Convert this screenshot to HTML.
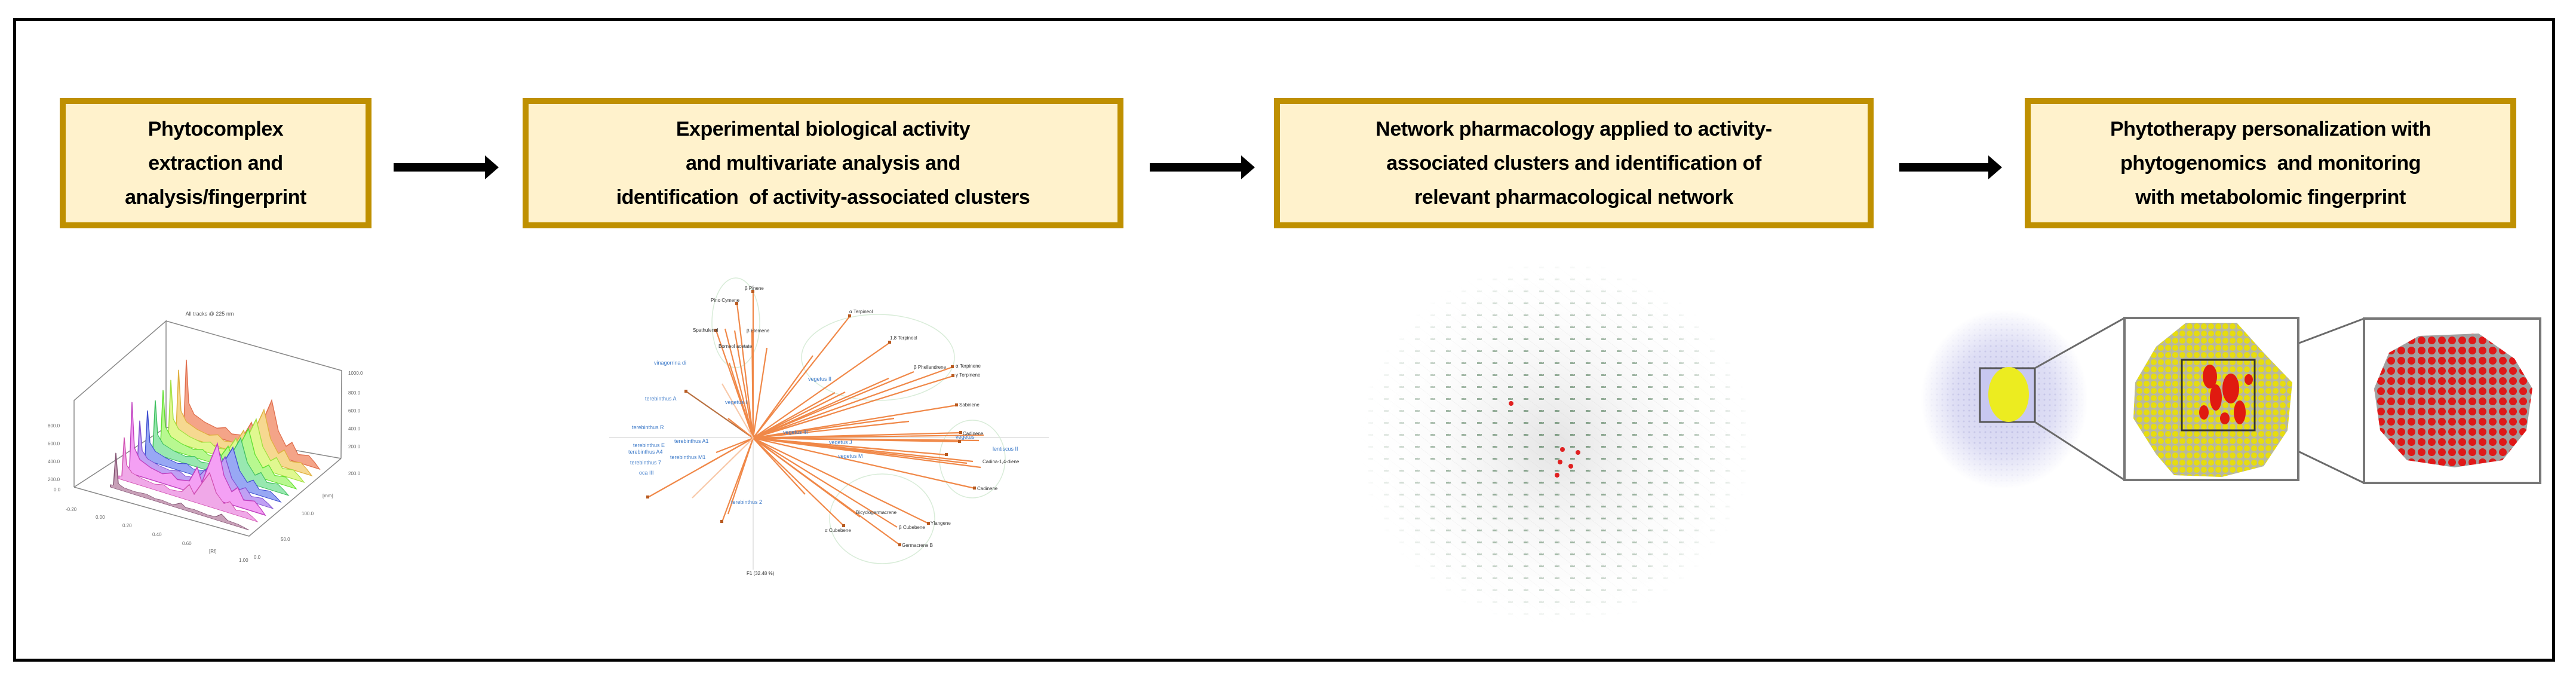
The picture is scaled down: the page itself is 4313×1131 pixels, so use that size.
<!DOCTYPE html>
<html><head><meta charset="utf-8"><style>
html,body{margin:0;padding:0;background:#fff;}
body{width:4313px;height:1131px;position:relative;overflow:hidden;font-family:"Liberation Sans",sans-serif;}
.frame{position:absolute;left:22px;top:30px;width:4256px;height:1077px;border:5px solid #000;box-sizing:border-box;}
.box{position:absolute;top:164px;height:218px;background:#fff2cc;border:10px solid #bf9000;box-sizing:border-box;display:flex;flex-direction:column;justify-content:center;align-items:center;text-align:center;font-weight:bold;font-size:34px;line-height:57px;color:#000;letter-spacing:-0.5px;}
svg{position:absolute;left:0;top:0;}
</style></head><body>
<div class="frame"></div>
<div class="box" style="left:100px;width:522px;">Phytocomplex<br>extraction and<br>analysis/fingerprint</div>
<div class="box" style="left:875px;width:1006px;">Experimental biological activity<br>and multivariate analysis and<br>identification&nbsp; of activity-associated clusters</div>
<div class="box" style="left:2133px;width:1004px;">Network pharmacology applied to activity-<br>associated clusters and identification of<br>relevant pharmacological network</div>
<div class="box" style="left:3390px;width:823px;">Phytotherapy personalization with<br>phytogenomics&nbsp; and monitoring<br>with metabolomic fingerprint</div>

<svg width="4313" height="1131" viewBox="0 0 4313 1131">
<defs>
<pattern id="yel" width="12" height="12" patternUnits="userSpaceOnUse"><rect width="12" height="12" fill="#b8b8a0"/><circle cx="6" cy="6" r="5" fill="#e6dc10"/></pattern>
<pattern id="red" width="17" height="17" patternUnits="userSpaceOnUse"><rect width="17" height="17" fill="#a0a0a0"/><circle cx="8.5" cy="8.5" r="6.5" fill="#e01818"/></pattern>
<pattern id="pur" width="9" height="9" patternUnits="userSpaceOnUse"><rect width="9" height="9" fill="#c4c4ec"/><circle cx="3" cy="3" r="1.5" fill="#a0a0d8"/></pattern>
<pattern id="net" width="26" height="20" patternUnits="userSpaceOnUse"><rect x="3" y="6" width="8" height="3" fill="#7a9a80"/><line x1="0" y1="0" x2="26" y2="20" stroke="#ddd" stroke-width="0.5"/></pattern>
<radialGradient id="fade"><stop offset="0" stop-color="#fff" stop-opacity="1"/><stop offset="0.6" stop-color="#fff" stop-opacity="0.7"/><stop offset="1" stop-color="#fff" stop-opacity="0"/></radialGradient>
<mask id="netmask"><ellipse cx="2605" cy="740" rx="330" ry="305" fill="url(#fade)"/></mask>
<mask id="purmask"><ellipse cx="3356" cy="668" rx="140" ry="150" fill="url(#fade)"/></mask>
<radialGradient id="ng"><stop offset="0" stop-color="#e4e4e4"/><stop offset="1" stop-color="#fafafa" stop-opacity="0"/></radialGradient>
</defs>

<g fill="#000">
<polygon points="659,273 812,273 812,260 835,280 812,300 812,287 659,287"/>
<polygon points="1925,273 2078,273 2078,260 2101,280 2078,300 2078,287 1925,287"/>
<polygon points="3180,273 3329,273 3329,260 3352,280 3329,300 3329,287 3180,287"/>
</g>

<g stroke="#888" stroke-width="1.5" fill="none">
<polyline points="124,815 124,670 278,537 278,715"/>
<polyline points="278,537 572,620 571,767"/>
<polyline points="124,815 417,897 571,767"/>
<line x1="278" y1="715" x2="571" y2="767"/>
<line x1="124" y1="815" x2="278" y2="715"/>
</g>
<text x="351" y="528" font-size="9" fill="#555" text-anchor="middle">All tracks @ 225 nm</text>
<g font-size="8" fill="#666">
<text x="80" y="715">800.0</text><text x="80" y="745">600.0</text><text x="80" y="775">400.0</text><text x="80" y="805">200.0</text><text x="90" y="822">0.0</text>
<text x="583" y="627">1000.0</text><text x="583" y="660">800.0</text><text x="583" y="690">600.0</text><text x="583" y="720">400.0</text><text x="583" y="750">200.0</text><text x="583" y="795">200.0</text>
<text x="110" y="855">-0.20</text><text x="160" y="868">0.00</text><text x="205" y="882">0.20</text><text x="255" y="897">0.40</text><text x="305" y="912">0.60</text><text x="350" y="925">[Rf]</text><text x="400" y="940">1.00</text>
<text x="425" y="935">0.0</text><text x="470" y="905">50.0</text><text x="505" y="862">100.0</text><text x="540" y="832">[mm]</text>
</g>
<g stroke-width="1.5">
<path d="M0,0 L0,-8 L5,-10 L9,-120 L13,-45 L22,-28 L40,-20 L60,-16 L75,-22 L85,-14 L105,-18 L118,-45 L126,-22 L140,-62 L152,-95 L163,-45 L176,-22 L186,-32 L196,-14 L214,-18 L224,-9 L232,0 Z" fill="#f4a488" stroke="#e07050" transform="matrix(1,0.31,0,0.95,303,713)"/>
<path d="M0,0 L0,-8 L5,-10 L9,-120 L13,-45 L22,-28 L40,-20 L60,-16 L75,-22 L85,-14 L105,-18 L118,-45 L126,-22 L140,-62 L152,-95 L163,-45 L176,-22 L186,-32 L196,-14 L214,-18 L224,-9 L232,0 Z" fill="#f6d890" stroke="#e0b040" transform="matrix(1,0.31,0,0.9,290,724)"/>
<path d="M0,0 L0,-8 L5,-10 L9,-120 L13,-45 L22,-28 L40,-20 L60,-16 L75,-22 L85,-14 L105,-18 L118,-45 L126,-22 L140,-62 L152,-95 L163,-45 L176,-22 L186,-32 L196,-14 L214,-18 L224,-9 L232,0 Z" fill="#e0f890" stroke="#a0e040" transform="matrix(1,0.31,0,0.85,277,735)"/>
<path d="M0,0 L0,-8 L5,-10 L9,-120 L13,-45 L22,-28 L40,-20 L60,-16 L75,-22 L85,-14 L105,-18 L118,-45 L126,-22 L140,-62 L152,-95 L163,-45 L176,-22 L186,-32 L196,-14 L214,-18 L224,-9 L232,0 Z" fill="#b8f890" stroke="#60e030" transform="matrix(1,0.31,0,0.8,264,746)"/>
<path d="M0,0 L0,-8 L5,-10 L9,-120 L13,-45 L22,-28 L40,-20 L60,-16 L75,-22 L85,-14 L105,-18 L118,-45 L126,-22 L140,-62 L152,-95 L163,-45 L176,-22 L186,-32 L196,-14 L214,-18 L224,-9 L232,0 Z" fill="#98e8b0" stroke="#40c060" transform="matrix(1,0.31,0,0.75,251,757)"/>
<path d="M0,0 L0,-8 L5,-10 L9,-120 L13,-45 L22,-28 L40,-20 L60,-16 L75,-22 L85,-14 L105,-18 L118,-45 L126,-22 L140,-62 L152,-95 L163,-45 L176,-22 L186,-32 L196,-14 L214,-18 L224,-9 L232,0 Z" fill="#98a8f4" stroke="#4050d0" transform="matrix(1,0.31,0,0.7,238,768)"/>
<path d="M0,0 L0,-8 L5,-10 L9,-120 L13,-45 L22,-28 L40,-20 L60,-16 L75,-22 L85,-14 L105,-18 L118,-45 L126,-22 L140,-62 L152,-95 L163,-45 L176,-22 L186,-32 L196,-14 L214,-18 L224,-9 L232,0 Z" fill="#c0a0f4" stroke="#8050d0" transform="matrix(1,0.31,0,0.65,225,779)"/>
<path d="M0,0 L0,-8 L5,-10 L9,-120 L13,-45 L22,-28 L40,-20 L60,-16 L75,-22 L85,-14 L105,-18 L118,-45 L126,-22 L140,-62 L152,-95 L163,-45 L176,-22 L186,-32 L196,-14 L214,-18 L224,-9 L232,0 Z" fill="#f4a0f4" stroke="#c040c0" transform="matrix(1,0.31,0,1.0,212,790)"/>
<path d="M0,0 L0,-8 L5,-10 L9,-120 L13,-45 L22,-28 L40,-20 L60,-16 L75,-22 L85,-14 L105,-18 L118,-45 L126,-22 L140,-62 L152,-95 L163,-45 L176,-22 L186,-32 L196,-14 L214,-18 L224,-9 L232,0 Z" fill="#f0a8e8" stroke="#d050b0" transform="matrix(1,0.31,0,0.6,199,801)"/>
<path d="M0,0 L0,-8 L5,-10 L9,-120 L13,-20 L22,-12 L40,-10 L60,-14 L75,-8 L85,-10 L105,-6 L118,-20 L126,-10 L140,-12 L152,-10 L163,-8 L176,-10 L186,-25 L196,-10 L214,-8 L224,-4 L232,0 Z" fill="#c8a0b8" stroke="#805070" transform="matrix(1,0.31,0,0.5,185,815)"/>
</g>

<g stroke="#ddd" stroke-width="1.5"><line x1="1020" y1="732" x2="1756" y2="732"/><line x1="1261" y1="477" x2="1261" y2="953"/></g>
<g fill="none" stroke="#d8ecd8" stroke-width="1.5">
<ellipse cx="1232" cy="540" rx="40" ry="75"/><ellipse cx="1470" cy="598" rx="128" ry="72"/><ellipse cx="1628" cy="768" rx="55" ry="65"/><ellipse cx="1477" cy="868" rx="88" ry="75"/>
</g>
<g stroke="#f08848" stroke-width="2.2">
<line x1="1261" y1="733" x2="1261" y2="488"/><line x1="1261" y1="733" x2="1234" y2="508"/><line x1="1261" y1="733" x2="1199" y2="553"/><line x1="1261" y1="733" x2="1214" y2="550"/><line x1="1261" y1="733" x2="1230" y2="553"/><line x1="1261" y1="733" x2="1259" y2="553"/><line x1="1261" y1="733" x2="1221" y2="607"/><line x1="1261" y1="733" x2="1284" y2="582"/><line x1="1261" y1="733" x2="1423" y2="529"/><line x1="1261" y1="733" x2="1361" y2="595"/><line x1="1261" y1="733" x2="1490" y2="573"/><line x1="1261" y1="733" x2="1530" y2="622"/><line x1="1261" y1="733" x2="1595" y2="614"/><line x1="1261" y1="733" x2="1596" y2="629"/><line x1="1261" y1="733" x2="1488" y2="633"/><line x1="1261" y1="733" x2="1398" y2="657"/><line x1="1261" y1="733" x2="1415" y2="656"/><line x1="1261" y1="733" x2="1602" y2="678"/><line x1="1261" y1="733" x2="1497" y2="700"/><line x1="1261" y1="733" x2="1522" y2="705"/><line x1="1261" y1="733" x2="1391" y2="693"/><line x1="1261" y1="733" x2="1609" y2="724"/><line x1="1261" y1="733" x2="1607" y2="739"/><line x1="1261" y1="733" x2="1647" y2="728"/><line x1="1261" y1="733" x2="1639" y2="737"/><line x1="1261" y1="733" x2="1585" y2="761"/><line x1="1261" y1="733" x2="1629" y2="772"/><line x1="1261" y1="733" x2="1619" y2="775"/><line x1="1261" y1="733" x2="1642" y2="782"/><line x1="1261" y1="733" x2="1488" y2="753"/><line x1="1261" y1="733" x2="1632" y2="817"/><line x1="1261" y1="733" x2="1331" y2="732"/><line x1="1261" y1="733" x2="1555" y2="876"/><line x1="1261" y1="733" x2="1502" y2="882"/><line x1="1261" y1="733" x2="1507" y2="912"/><line x1="1261" y1="733" x2="1440" y2="865"/><line x1="1261" y1="733" x2="1413" y2="880"/><line x1="1261" y1="733" x2="1348" y2="827"/><line x1="1261" y1="733" x2="1209" y2="873"/><line x1="1261" y1="733" x2="1219" y2="860"/><line x1="1261" y1="733" x2="1172" y2="783"/><line x1="1261" y1="733" x2="1085" y2="832"/><line x1="1261" y1="733" x2="1199" y2="757"/><line x1="1261" y1="733" x2="1149" y2="655" stroke="#b87040"/><line x1="1261" y1="733" x2="1219" y2="700"/>
<line x1="1261" y1="733" x2="1159" y2="833" stroke="#f8c8a8"/><line x1="1261" y1="733" x2="1209" y2="642" stroke="#f8c8a8"/>
</g>
<g fill="#b85a20">
<rect x="1258" y="485" width="5" height="5"/><rect x="1231" y="505" width="5" height="5"/><rect x="1196" y="550" width="5" height="5"/><rect x="1420" y="526" width="5" height="5"/><rect x="1487" y="570" width="5" height="5"/><rect x="1592" y="611" width="5" height="5"/><rect x="1593" y="626" width="5" height="5"/><rect x="1599" y="675" width="5" height="5"/><rect x="1606" y="721" width="5" height="5"/><rect x="1604" y="736" width="5" height="5"/><rect x="1582" y="758" width="5" height="5"/><rect x="1629" y="814" width="5" height="5"/><rect x="1552" y="873" width="5" height="5"/><rect x="1504" y="909" width="5" height="5"/><rect x="1410" y="877" width="5" height="5"/><rect x="1082" y="829" width="5" height="5"/><rect x="1146" y="652" width="5" height="5"/><rect x="1206" y="870" width="5" height="5"/>
</g>
<g font-size="8" fill="#333">
<text x="1247" y="485">β Pinene</text><text x="1190" y="505">Pino Cymene</text><text x="1160" y="555">Spathulenol</text><text x="1250" y="556">β Elemene</text><text x="1203" y="582">Borneol acetate</text><text x="1422" y="524">α Terpineol</text><text x="1490" y="568">1,8 Terpineol</text><text x="1530" y="617">β Phellandrene</text><text x="1600" y="615">α Terpinene</text><text x="1600" y="630">γ Terpinene</text><text x="1606" y="680">Sabinene</text><text x="1612" y="728">Cadinene</text><text x="1645" y="775">Cadina-1,4-diene</text><text x="1636" y="820">Cadinene</text><text x="1558" y="878">Ylangene</text><text x="1381" y="890">α Cubebene</text><text x="1505" y="885">β Cubebene</text><text x="1510" y="915">Germacrene B</text><text x="1433" y="860">Bicyclogermacrene</text><text x="1250" y="962">F1 (32.48 %)</text>
</g>
<g font-size="9" fill="#3a78c8">
<text x="1095" y="610">vinagorrina di</text><text x="1080" y="670">terebinthus A</text><text x="1214" y="676">vegetus I</text><text x="1353" y="637">vegetus II</text><text x="1058" y="718">terebinthus R</text><text x="1129" y="741">terebinthus A1</text><text x="1060" y="748">terebinthus E</text><text x="1052" y="759">terebinthus A4</text><text x="1122" y="768">terebinthus M1</text><text x="1055" y="777">terebinthus 7</text><text x="1070" y="794">oca III</text><text x="1388" y="743">vegetus J</text><text x="1403" y="766">vegetus M</text><text x="1662" y="754">lentiscus II</text><text x="1224" y="843">terebinthus 2</text><text x="1311" y="726">vegetus III</text><text x="1600" y="734">vegetus</text>
</g>

<ellipse cx="2605" cy="745" rx="300" ry="290" fill="url(#ng)"/>
<rect x="2270" y="430" width="670" height="620" fill="url(#net)" mask="url(#netmask)"/>
<g fill="#e02020"><circle cx="2530" cy="675" r="4"/><circle cx="2616" cy="752" r="4"/><circle cx="2642" cy="757" r="4"/><circle cx="2612" cy="773" r="4"/><circle cx="2630" cy="780" r="4"/><circle cx="2607" cy="795" r="4"/></g>

<rect x="3200" y="510" width="310" height="320" fill="url(#pur)" mask="url(#purmask)" opacity="0.8"/>
<rect x="3315" y="616" width="92" height="90" fill="#c8c8f0" stroke="#555" stroke-width="3"/>
<ellipse cx="3363" cy="660" rx="34" ry="46" fill="#ecec20"/>
<g stroke="#6a6a6a" stroke-width="3"><line x1="3407" y1="616" x2="3557" y2="532"/><line x1="3407" y1="706" x2="3557" y2="803"/><line x1="3775" y1="602" x2="3958" y2="533"/><line x1="3775" y1="720" x2="3958" y2="808"/></g>
<rect x="3557" y="532" width="291" height="271" fill="#fff" stroke="#777" stroke-width="4"/>
<polygon points="3660,540 3745,540 3790,590 3838,640 3830,720 3790,780 3720,798 3640,795 3610,760 3572,700 3575,640 3610,580" fill="#d8d8d8"/>
<polygon points="3660,540 3745,540 3790,590 3838,640 3830,720 3790,780 3720,798 3640,795 3610,760 3572,700 3575,640 3610,580" fill="url(#yel)"/>
<rect x="3653" y="602" width="122" height="118" fill="none" stroke="#333" stroke-width="3"/>
<g fill="#e01a10"><ellipse cx="3700" cy="630" rx="12" ry="20"/><ellipse cx="3735" cy="650" rx="14" ry="25"/><ellipse cx="3710" cy="665" rx="10" ry="22"/><ellipse cx="3750" cy="690" rx="10" ry="20"/><ellipse cx="3690" cy="690" rx="8" ry="12"/><ellipse cx="3725" cy="700" rx="8" ry="10"/><ellipse cx="3765" cy="635" rx="7" ry="9"/></g>
<rect x="3958" y="533" width="295" height="275" fill="#fff" stroke="#777" stroke-width="4"/>
<polygon points="4050,562 4150,558 4210,600 4240,650 4230,720 4190,770 4110,782 4030,770 3985,720 3975,650 4000,590" fill="url(#red)"/>
</svg>
</body></html>
